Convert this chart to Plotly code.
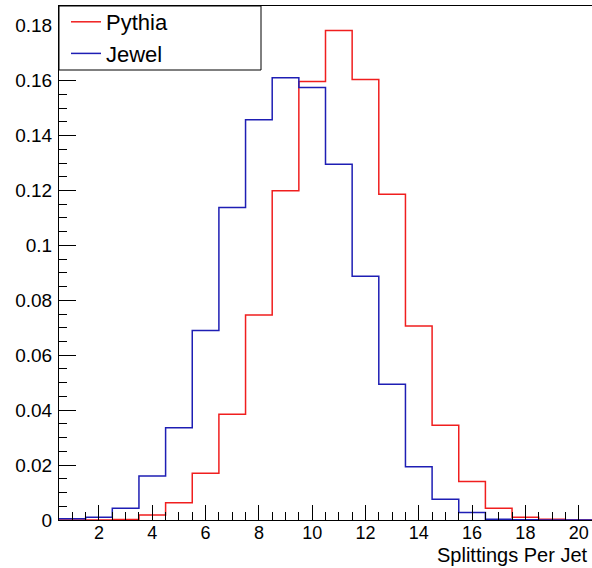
import plotly.graph_objects as go

# Data
bin_centers = list(range(1, 21))
pythia = [0.0, 0.0, 0.0002, 0.0018, 0.0063, 0.0170, 0.0385, 0.0747, 0.1199, 0.1597,
          0.1783, 0.1604, 0.1186, 0.0707, 0.0345, 0.0140, 0.0043, 0.0010, 0.0003, 0.0]
jewel = [0.0005, 0.0010, 0.0043, 0.0160, 0.0336, 0.0690, 0.1138, 0.1458, 0.1611, 0.1575,
         0.1296, 0.0888, 0.0494, 0.0194, 0.0076, 0.0027, 0.0003, 0.0001, 0.0, 0.0]
y_tick_vals = [0, 0.02, 0.04, 0.06, 0.08, 0.10, 0.12, 0.14, 0.16, 0.18]
y_tick_text = ["0", "0.02", "0.04", "0.06", "0.08", "0.1", "0.12", "0.14", "0.16", "0.18"]
x_tick_vals = [2, 4, 6, 8, 10, 12, 14, 16, 18, 20]
x_title = "Splittings Per Jet"

FONT = "Liberation Sans, Arial, Helvetica, sans-serif"


def step_xy(centers, values):
    xs = [c - 0.5 for c in centers] + [centers[-1] + 0.5]
    ys = list(values) + [values[-1]]
    return xs, ys


fig = go.Figure()
for name, vals, color in [("Pythia", pythia, "#f01e1e"), ("Jewel", jewel, "#1e1eb4")]:
    xs, ys = step_xy(bin_centers, vals)
    fig.add_trace(go.Scatter(x=xs, y=ys, mode="lines", name=name,
                             line=dict(color=color, width=1.5, shape="hv")))

W, H = 592, 568
ml, mr, mt, mb = 59, 0, 6, 48
pw, ph = W - ml - mr, H - mt - mb

fig.update_layout(
    width=W, height=H,
    margin=dict(l=ml, r=mr, t=mt, b=mb, pad=0),
    paper_bgcolor="white", plot_bgcolor="white",
    font=dict(family=FONT, color="black"),
    showlegend=True,
    legend=dict(x=(66 - ml) / pw, y=1 + 5 / ph, xanchor="left", yanchor="top",
                bgcolor="rgba(0,0,0,0)", borderwidth=0,
                font=dict(size=22, family=FONT), itemwidth=30,
                tracegroupgap=0),
    xaxis=dict(range=[0.5, 20.5], tickvals=x_tick_vals, ticks="inside", ticklen=15,
               tickwidth=1, tickcolor="black", showgrid=False, zeroline=False,
               showline=True, linecolor="black", linewidth=1, mirror=True,
               tickfont=dict(size=18, family=FONT), ticklabelstandoff=-4,
               minor=dict(dtick=0.5, tick0=0, ticks="inside", ticklen=8,
                          tickcolor="black", tickwidth=1, showgrid=False)),
    yaxis=dict(range=[0, 0.1872], tickvals=y_tick_vals, ticktext=y_tick_text,
               ticks="inside", ticklen=17, tickwidth=1, tickcolor="black",
               showgrid=False, zeroline=False, showline=True, linecolor="black",
               linewidth=1, mirror=False, tickfont=dict(size=19, family=FONT),
               ticklabelstandoff=2,
               minor=dict(dtick=0.005, tick0=0, ticks="inside", ticklen=8,
                          tickcolor="black", tickwidth=1, showgrid=False)),
    shapes=[dict(type="rect", xref="paper", yref="paper",
                 x0=0, x1=(261 - ml) / pw, y0=1 - (70 - mt) / ph, y1=1,
                 line=dict(color="black", width=1), fillcolor="white", layer="above")],
    annotations=[dict(text=x_title, xref="paper", yref="paper", x=1, y=-(555 - (H - mb)) / ph,
                      xanchor="right", yanchor="middle", xshift=-2, showarrow=False,
                      font=dict(size=20, family=FONT))],
)

fig.write_html("out.html")
